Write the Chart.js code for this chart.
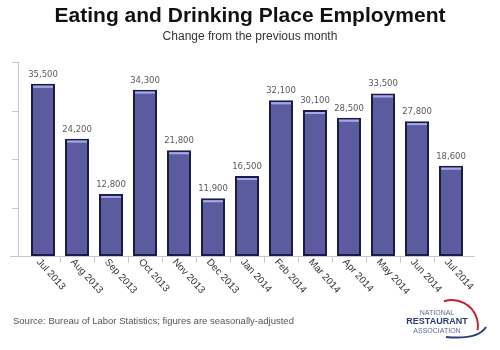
<!DOCTYPE html>
<html>
<head>
<meta charset="utf-8">
<script src="https://cdn.jsdelivr.net/npm/chart.js@4.4.1/dist/chart.umd.min.js"></script>
<style>
  html, body { margin: 0; padding: 0; background: #fff; }
  #wrap { width: 500px; height: 350px; }
</style>
</head>
<body>
<div id="wrap"><canvas id="myChart" width="500" height="350"></canvas></div>
<script>
const months = ['Jul 2013', 'Aug 2013', 'Sep 2013', 'Oct 2013', 'Nov 2013', 'Dec 2013', 'Jan 2014',
                'Feb 2014', 'Mar 2014', 'Apr 2014', 'May 2014', 'Jun 2014', 'Jul 2014'];
const jobChange = [35500, 24200, 12800, 34300, 21800, 11900, 16500, 32100, 30100, 28500, 33500, 27800, 18600];
const yTicks = [0, 10000, 20000, 30000, 40000];

const barFill = '#5b5c9f';
const barEdge = '#1b1c46';
const axisGrey = '#c8c8c8';

// axes, titles, value labels, top highlight on bars, rotated month labels, footer and logo
const extras = {
    id: 'extras',
    beforeDatasetsDraw(chart) {
        const ctx = chart.ctx;
        const xScale = chart.scales.x;
        const yScale = chart.scales.y;
        const area = chart.chartArea;
        const yLine = area.left - 8;
        ctx.save();
        ctx.strokeStyle = axisGrey;
        ctx.lineWidth = 1;
        ctx.beginPath();
        // y axis line + tick marks
        ctx.moveTo(yLine + 0.5, yScale.getPixelForValue(yTicks[yTicks.length - 1]));
        ctx.lineTo(yLine + 0.5, area.bottom);
        yTicks.slice(1).forEach(v => {
            const py = Math.round(yScale.getPixelForValue(v)) + 0.5;
            ctx.moveTo(yLine - 6, py);
            ctx.lineTo(yLine, py);
        });
        // x axis line + tick marks between months
        const by = Math.round(area.bottom) + 0.5;
        ctx.moveTo(yLine - 8, by);
        ctx.lineTo(area.right + 7, by);
        for (let i = 1; i < months.length; i++) {
            const px = Math.round((xScale.getPixelForValue(i - 1) + xScale.getPixelForValue(i)) / 2) + 0.5;
            ctx.moveTo(px, by);
            ctx.lineTo(px, by + 6);
        }
        ctx.stroke();
        ctx.restore();
    },
    afterDatasetsDraw(chart) {
        const ctx = chart.ctx;
        const meta = chart.getDatasetMeta(0);
        ctx.save();
        meta.data.forEach((bar, i) => {
            const half = bar.width / 2;
            ctx.strokeStyle = '#a3a8e6';
            ctx.lineWidth = 2;
            ctx.beginPath();
            ctx.moveTo(bar.x - half + 2, bar.y + 3);
            ctx.lineTo(bar.x + half - 2, bar.y + 3);
            ctx.stroke();

            ctx.fillStyle = '#5a5a5a';
            ctx.font = '8.5px "DejaVu Sans"';
            ctx.textAlign = 'center';
            ctx.textBaseline = 'bottom';
            ctx.fillText(jobChange[i].toLocaleString('en-US'), bar.x, bar.y - 5);
        });
        ctx.restore();
    },
    afterDraw(chart) {
        const ctx = chart.ctx;
        const xScale = chart.scales.x;
        const w = chart.width;
        ctx.save();

        ctx.textAlign = 'center';
        ctx.textBaseline = 'middle';
        ctx.fillStyle = '#111';
        ctx.font = 'bold 21px "Liberation Sans", Arial';
        ctx.fillText('Eating and Drinking Place Employment', w / 2, 16);
        ctx.fillStyle = '#333';
        ctx.font = '12px "Liberation Sans", Arial';
        ctx.fillText('Change from the previous month', w / 2, 37);

        ctx.fillStyle = '#333';
        ctx.font = '10px "Liberation Sans", Arial';
        ctx.textAlign = 'left';
        ctx.textBaseline = 'top';
        months.forEach((m, i) => {
            const px = xScale.getPixelForValue(i);
            ctx.save();
            ctx.translate(px - 1, xScale.bottom + 1);
            ctx.rotate(Math.PI * 48 / 180);
            ctx.fillText(m, 0, 0);
            ctx.restore();
        });

        ctx.fillStyle = '#555';
        ctx.font = '9.5px "Liberation Sans", Arial';
        ctx.textBaseline = 'middle';
        ctx.fillText('Source: Bureau of Labor Statistics; figures are seasonally-adjusted', 13, 321);

        // logo
        ctx.strokeStyle = '#c8202f';
        ctx.lineWidth = 2;
        ctx.beginPath();
        ctx.arc(452, 326, 26, -Math.PI * 0.6, Math.PI * 0.05);
        ctx.stroke();
        ctx.strokeStyle = '#2b3f7a';
        ctx.beginPath();
        ctx.moveTo(446, 337);
        ctx.quadraticCurveTo(478, 340, 486, 327);
        ctx.stroke();

        ctx.textAlign = 'center';
        ctx.fillStyle = '#5e6b8c';
        ctx.font = '7px "Liberation Sans", Arial';
        ctx.fillText('NATIONAL', 437, 313);
        ctx.fillStyle = '#2a3a6b';
        ctx.font = 'bold 9px "Liberation Sans", Arial';
        ctx.fillText('RESTAURANT', 437, 322);
        ctx.fillStyle = '#5e6b8c';
        ctx.font = '7px "Liberation Sans", Arial';
        ctx.fillText('ASSOCIATION', 437, 331);
        ctx.restore();
    }
};

const ctx = document.getElementById('myChart').getContext('2d');

const myBarChart = new Chart(ctx, {
    type: 'bar',
    data: {
        labels: months,
        datasets: [{
            label: 'Change from the previous month',
            data: jobChange,
            backgroundColor: barFill,
            borderColor: barEdge,
            borderWidth: 2,
            borderSkipped: false,
            categoryPercentage: 1,
            barPercentage: 0.706
        }]
    },
    options: {
        animation: false,
        maintainAspectRatio: false,
        responsive: false,
        layout: {
            padding: {left: 26, right: 32, top: 62, bottom: 94}
        },
        scales: {
            x: {
                display: false
            },
            y: {
                display: false,
                min: yTicks[0],
                max: yTicks[yTicks.length - 1]
            }
        },
        plugins: {
            legend: {display: false},
            tooltip: {enabled: false}
        }
    },
    plugins: [extras]
});
</script>
</body>
</html>
